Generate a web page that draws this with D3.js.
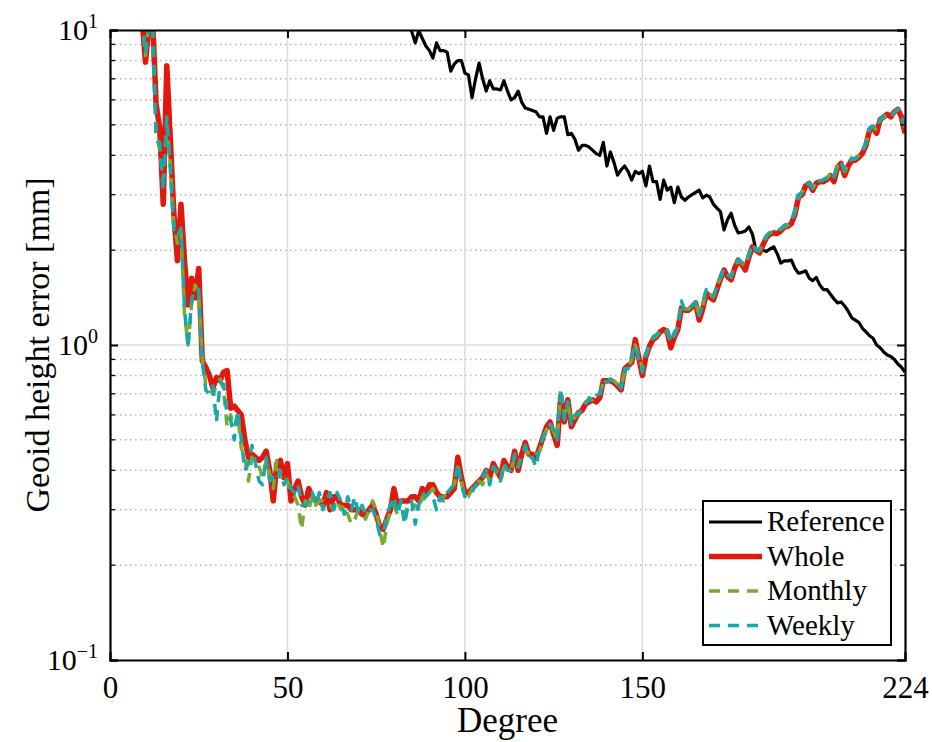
<!DOCTYPE html>
<html>
<head>
<meta charset="utf-8">
<script src="https://cdn.jsdelivr.net/npm/d3@7"></script>
<style>
	body { margin: 0; background: #fff; }
</style>
</head>
<body>
<div class="graph"></div>
<script>
// degree ranges of each series
var wholeStart = 9;
var refStart = 84;

var whole = [11, 7.9, 10.5, 10.8, 5.8, 4.9, 2.8, 7.7, 4.5, 2.6,
	1.85, 2.8, 1.85, 1.34, 1.63, 1.41, 1.75, 0.89, 0.85, 0.8,
	0.73, 0.79, 0.77, 0.82, 0.83, 0.63, 0.64, 0.62, 0.6, 0.5,
	0.44, 0.45, 0.44, 0.43, 0.44, 0.46, 0.4, 0.32, 0.42, 0.43,
	0.38, 0.42, 0.32, 0.35, 0.37, 0.33, 0.31, 0.35, 0.33, 0.32,
	0.32, 0.31, 0.34, 0.3, 0.33, 0.33, 0.31, 0.31, 0.31, 0.3,
	0.3, 0.3, 0.29, 0.29, 0.3, 0.31, 0.29, 0.265, 0.26, 0.28,
	0.3, 0.35, 0.31, 0.32, 0.32, 0.32, 0.33, 0.33, 0.32, 0.35,
	0.34, 0.36, 0.36, 0.34, 0.33, 0.33, 0.33, 0.34, 0.35, 0.44,
	0.38, 0.34, 0.34, 0.35, 0.36, 0.37, 0.38, 0.4, 0.38, 0.42,
	0.4, 0.38, 0.43, 0.41, 0.4, 0.46, 0.4, 0.45, 0.49, 0.45,
	0.45, 0.44, 0.47, 0.51, 0.55, 0.57, 0.52, 0.48, 0.69, 0.57,
	0.67, 0.55, 0.58, 0.61, 0.62, 0.65, 0.66, 0.67, 0.66, 0.68,
	0.77, 0.77, 0.77, 0.76, 0.74, 0.72, 0.84, 0.86, 0.88, 1.04,
	0.91, 0.8, 0.92, 0.99, 1.04, 1.06, 1.1, 1.12, 1.1, 0.98,
	1.06, 1.12, 1.31, 1.29, 1.29, 1.32, 1.36, 1.2, 1.3, 1.46,
	1.42, 1.39, 1.5, 1.62, 1.73, 1.65, 1.61, 1.75, 1.86, 1.8,
	1.73, 1.9, 2.05, 2.0, 1.96, 2.08, 2.2, 2.25, 2.27, 2.26,
	2.3, 2.37, 2.38, 2.43, 2.6, 2.95, 3.0, 3.2, 3.26, 3.1,
	3.26, 3.3, 3.3, 3.35, 3.45, 3.3, 3.67, 3.77, 3.45, 3.7,
	3.86, 3.86, 3.95, 4.06, 4.3, 4.8, 4.9, 4.7, 5.2, 5.3,
	5.4, 5.3, 5.5, 5.6, 5.3, 4.7];

var monthly = [11, 8.3, 10.5, 10.2, 4.6, 4.2, 3.3, 5.0, 3.8, 2.4,
	2.1, 2.3, 1.25, 1.0, 1.35, 1.55, 1.45, 0.9, 0.75, 0.72,
	0.7, 0.74, 0.78, 0.72, 0.55, 0.6, 0.55, 0.6, 0.47, 0.44,
	0.37, 0.44, 0.42, 0.41, 0.38, 0.43, 0.39, 0.35, 0.43, 0.38,
	0.39, 0.37, 0.34, 0.33, 0.31, 0.26, 0.32, 0.3, 0.33, 0.31,
	0.32, 0.32, 0.31, 0.31, 0.3, 0.32, 0.3, 0.31, 0.29, 0.27,
	0.28, 0.3, 0.29, 0.28, 0.3, 0.32, 0.3, 0.26, 0.227, 0.27,
	0.3, 0.31, 0.29, 0.3, 0.29, 0.31, 0.3, 0.31, 0.3, 0.33,
	0.32, 0.34, 0.35, 0.33, 0.32, 0.33, 0.34, 0.35, 0.36, 0.41,
	0.37, 0.33, 0.33, 0.35, 0.35, 0.37, 0.36, 0.39, 0.37, 0.41,
	0.39, 0.38, 0.41, 0.4, 0.4, 0.44, 0.41, 0.45, 0.47, 0.45,
	0.44, 0.45, 0.46, 0.5, 0.54, 0.56, 0.53, 0.5, 0.7, 0.6,
	0.65, 0.57, 0.59, 0.61, 0.63, 0.66, 0.67, 0.67, 0.68, 0.7,
	0.76, 0.77, 0.78, 0.77, 0.75, 0.74, 0.82, 0.85, 0.9, 1.0,
	0.93, 0.84, 0.93, 1.0, 1.05, 1.07, 1.1, 1.13, 1.1, 1.02,
	1.08, 1.14, 1.36, 1.3, 1.3, 1.33, 1.35, 1.25, 1.33, 1.48,
	1.45, 1.42, 1.52, 1.64, 1.72, 1.68, 1.64, 1.78, 1.85, 1.82,
	1.78, 1.93, 2.08, 2.02, 1.99, 2.1, 2.22, 2.27, 2.28, 2.29,
	2.33, 2.38, 2.4, 2.45, 2.65, 2.95, 3.05, 3.2, 3.25, 3.15,
	3.28, 3.3, 3.35, 3.38, 3.5, 3.4, 3.7, 3.8, 3.55, 3.75,
	3.9, 3.9, 4.0, 4.1, 4.35, 4.85, 4.95, 4.8, 5.2, 5.3,
	5.35, 5.25, 5.5, 5.6, 5.35, 4.9];

var weekly = [11, 8.4, 10.6, 10.4, 4.5, 4.4, 3.1, 5.3, 3.6, 2.3,
	2.2, 2.35, 1.3, 0.98, 1.4, 1.5, 1.5, 0.88, 0.72, 0.7,
	0.74, 0.57, 0.76, 0.75, 0.6, 0.58, 0.5, 0.62, 0.5, 0.4,
	0.42, 0.48, 0.42, 0.37, 0.36, 0.44, 0.37, 0.38, 0.37, 0.4,
	0.36, 0.38, 0.35, 0.34, 0.36, 0.31, 0.31, 0.32, 0.34, 0.31,
	0.34, 0.3, 0.32, 0.34, 0.3, 0.34, 0.32, 0.29, 0.33, 0.3,
	0.33, 0.29, 0.31, 0.29, 0.3, 0.3, 0.28, 0.25, 0.25, 0.29,
	0.31, 0.33, 0.29, 0.32, 0.27, 0.31, 0.32, 0.27, 0.31, 0.34,
	0.33, 0.34, 0.33, 0.3, 0.33, 0.32, 0.34, 0.35, 0.36, 0.42,
	0.36, 0.33, 0.34, 0.34, 0.36, 0.36, 0.38, 0.4, 0.36, 0.41,
	0.4, 0.37, 0.42, 0.4, 0.4, 0.45, 0.41, 0.44, 0.48, 0.44,
	0.44, 0.41, 0.47, 0.51, 0.55, 0.56, 0.54, 0.5, 0.73, 0.58,
	0.66, 0.56, 0.6, 0.6, 0.64, 0.65, 0.68, 0.66, 0.69, 0.7,
	0.77, 0.76, 0.78, 0.76, 0.76, 0.73, 0.84, 0.84, 0.92, 1.0,
	0.9, 0.82, 0.94, 1.0, 1.06, 1.08, 1.1, 1.12, 1.12, 1.02,
	1.1, 1.13, 1.38, 1.28, 1.32, 1.33, 1.37, 1.24, 1.34, 1.5,
	1.44, 1.43, 1.53, 1.65, 1.75, 1.67, 1.65, 1.79, 1.87, 1.83,
	1.8, 1.95, 2.1, 2.0, 2.0, 2.12, 2.22, 2.28, 2.3, 2.3,
	2.34, 2.4, 2.42, 2.46, 2.7, 3.0, 3.05, 3.22, 3.28, 3.15,
	3.3, 3.32, 3.35, 3.4, 3.52, 3.42, 3.72, 3.8, 3.58, 3.78,
	3.92, 3.9, 4.02, 4.12, 4.4, 4.9, 4.95, 4.85, 5.2, 5.35,
	5.38, 5.3, 5.5, 5.62, 5.4, 4.95];

var reference = [11, 9.9, 9.1, 9.95, 9.4, 8.9, 8.6, 8.15, 9.1, 8.6,
	8.6, 8.5, 7.4, 7.8, 8.0, 8.0, 7.3, 7.2, 6.1, 7.0,
	7.85, 7.0, 6.4, 6.9, 6.5, 6.5, 6.45, 6.9, 6.4, 6.0,
	6.1, 6.4, 5.9, 5.65, 5.6, 5.55, 5.5, 5.3, 5.3, 4.7,
	5.3, 4.8, 5.25, 5.3, 5.3, 4.65, 4.7, 4.5, 4.15, 4.3,
	4.3, 4.25, 4.15, 4.05, 4.0, 4.4, 3.7, 4.1, 3.8, 3.46,
	3.6, 3.7, 3.55, 3.34, 3.56, 3.5, 3.56, 3.2, 3.7, 3.3,
	3.3, 2.9, 3.34, 3.1, 3.17, 2.83, 3.17, 2.95, 2.88, 2.95,
	3.0, 3.05, 3.1, 2.93, 2.99, 2.95, 2.8, 2.72, 2.65, 2.32,
	2.5, 2.62, 2.4, 2.27, 2.28, 2.3, 2.37, 2.25, 2.0, 2.02,
	2.0, 1.98, 2.02, 2.05, 1.95, 1.82, 1.85, 1.85, 1.86, 1.75,
	1.69, 1.7, 1.72, 1.63, 1.6, 1.64, 1.55, 1.5, 1.5, 1.45,
	1.4, 1.36, 1.37, 1.33, 1.28, 1.22, 1.2, 1.18, 1.13, 1.1,
	1.07, 1.05, 1.0, 0.98, 0.95, 0.93, 0.92, 0.9, 0.87, 0.85,
	0.82];

var xTicks = [0, 50, 100, 150, 224];
var yMajor = [0.1, 1, 10];
var yExp = ["\u22121", "0", "1"];
var legendNames = ["Reference", "Whole", "Monthly", "Weekly"];

const FONT = "Liberation Serif";
const WIDTH = 932;
const HEIGHT = 742;
const LEFT = 110, RIGHT = 905, TOP = 30, BOTTOM = 660;

var xScale = d3.scaleLinear().domain([0, 224]).range([LEFT, RIGHT]);
var yScale = d3.scaleLog().domain([0.1, 10]).range([BOTTOM, TOP]);

var svg = d3.select(".graph").append("svg")
	.attr("width", WIDTH)
	.attr("height", HEIGHT);

svg.append("clipPath").attr("id", "plotclip")
	.append("rect")
	.attr("x", LEFT).attr("y", TOP)
	.attr("width", RIGHT - LEFT).attr("height", BOTTOM - TOP);

// minor ticks 2..9 per decade
var yMinor = [];
[0.1, 1].forEach(function(b){
	for (var k = 2; k <= 9; k++) yMinor.push(+(b * k).toFixed(2));
});

var grid = svg.append("g").attr("class", "grid");
grid.selectAll(".minor").data(yMinor).enter().append("line")
	.attr("x1", LEFT).attr("x2", RIGHT)
	.attr("y1", function(d){ return yScale(d); })
	.attr("y2", function(d){ return yScale(d); })
	.attr("stroke", "#b4b4b4").attr("stroke-width", 1.5)
	.attr("stroke-dasharray", "1.5,3.5");
grid.selectAll(".major").data([1]).enter().append("line")
	.attr("x1", LEFT).attr("x2", RIGHT)
	.attr("y1", function(d){ return yScale(d); })
	.attr("y2", function(d){ return yScale(d); })
	.attr("stroke", "#dcdcdc").attr("stroke-width", 1.5);
grid.selectAll(".xg").data([50, 100, 150]).enter().append("line")
	.attr("x1", function(d){ return xScale(d); })
	.attr("x2", function(d){ return xScale(d); })
	.attr("y1", TOP).attr("y2", BOTTOM)
	.attr("stroke", "#dcdcdc").attr("stroke-width", 1.5);

// series
var line = function(start){
	return d3.line()
		.x(function(d, i){ return xScale(start + i); })
		.y(function(d){ return yScale(d); });
};

var series = [
	{ data: reference, start: refStart, color: "#000000", width: 3.2, dash: null },
	{ data: whole, start: wholeStart, color: "#e3170d", width: 5.5, dash: null },
	{ data: monthly, start: wholeStart, color: "#77ac30", width: 3.5, dash: "11,8" },
	{ data: weekly, start: wholeStart, color: "#17a9a9", width: 3.5, dash: "11,8" }
];

var lines = svg.append("g").attr("clip-path", "url(#plotclip)");
series.forEach(function(s){
	lines.append("path")
		.attr("d", line(s.start)(s.data))
		.attr("fill", "none")
		.attr("stroke", s.color)
		.attr("stroke-width", s.width)
		.attr("stroke-linejoin", "round")
		.attr("stroke-dasharray", s.dash);
});

// axes with inward ticks
var xAxis = d3.axisBottom(xScale).tickValues(xTicks).tickSize(-8).tickPadding(16)
	.tickFormat(d3.format("d"));
var gx = svg.append("g")
	.attr("transform", "translate(0," + BOTTOM + ")")
	.call(xAxis);
gx.selectAll(".tick line").filter(function(d){ return d === 0 || d === 224; }).remove();
gx.selectAll("text").attr("font-size", 31);

var gxTop = svg.append("g")
	.attr("transform", "translate(0," + TOP + ")")
	.call(d3.axisTop(xScale).tickValues([50, 100, 150]).tickSize(-8).tickFormat(""));

var yAxis = d3.axisLeft(yScale).tickValues(yMajor).tickSize(-8).tickPadding(12).tickFormat("");
var gy = svg.append("g").attr("transform", "translate(" + LEFT + ",0)").call(yAxis);
gy.selectAll(".tick text").each(function(d, i){
	var t = d3.select(this).attr("font-size", 30).text(null);
	t.append("tspan").text("10");
	t.append("tspan").attr("font-size", 20).attr("dy", -12).text(yExp[i]);
});
gy.selectAll(".minorTick").data(yMinor).enter().append("line")
	.attr("x1", 0).attr("x2", 5)
	.attr("y1", function(d){ return yScale(d); })
	.attr("y2", function(d){ return yScale(d); })
	.attr("stroke", "#000").attr("stroke-width", 1.3);

var gyR = svg.append("g").attr("transform", "translate(" + RIGHT + ",0)")
	.call(d3.axisRight(yScale).tickValues(yMajor).tickSize(-8).tickFormat(""));
gyR.selectAll(".minorTick").data(yMinor).enter().append("line")
	.attr("x1", 0).attr("x2", -5)
	.attr("y1", function(d){ return yScale(d); })
	.attr("y2", function(d){ return yScale(d); })
	.attr("stroke", "#000").attr("stroke-width", 1.3);

[gx, gxTop, gy, gyR].forEach(function(g){
	g.attr("font-family", null);
	g.select(".domain").attr("stroke", "#000").attr("stroke-width", 2.2);
	g.selectAll(".tick line").attr("stroke-width", 2);
	g.selectAll("text").attr("fill", "#000");
});

// labels
svg.append("text")
	.attr("x", (LEFT + RIGHT) / 2).attr("y", 732)
	.attr("text-anchor", "middle").attr("font-size", 35)
	.text("Degree");
svg.append("text")
	.attr("transform", "translate(49," + (TOP + BOTTOM) / 2 + ") rotate(-90)")
	.attr("text-anchor", "middle").attr("font-size", 34)
	.text("Geoid height error [mm]");

// legend
var legend = svg.append("g").attr("transform", "translate(703,501)");
legend.append("rect")
	.attr("width", 188).attr("height", 144)
	.attr("fill", "#fff").attr("stroke", "#000").attr("stroke-width", 2);
var items = legend.selectAll(".item").data(series).enter().append("g")
	.attr("transform", function(d, i){ return "translate(0," + (21 + i * 34.5) + ")"; });
items.append("line")
	.attr("x1", 6).attr("x2", 59).attr("y1", 0).attr("y2", 0)
	.attr("stroke", function(d){ return d.color; })
	.attr("stroke-width", function(d){ return d.width; })
	.attr("stroke-dasharray", function(d){ return d.dash; });
items.append("text")
	.attr("x", 64).attr("y", 9)
	.attr("font-size", 29)
	.text(function(d, i){ return legendNames[i]; });

// serif font on every text element directly
svg.selectAll("text").attr("font-family", FONT).style("font-family", FONT);
</script>
</body>
</html>
